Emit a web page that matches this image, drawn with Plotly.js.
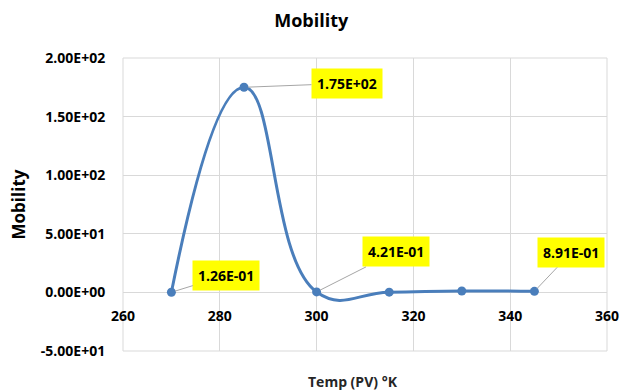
<!DOCTYPE html>
<html><head><meta charset="utf-8">
<script src="https://cdn.plot.ly/plotly-3.0.1.min.js"></script>
<style>html,body{margin:0;padding:0;background:#fff}#c{width:620px;height:391px}</style>
</head><body><div id="c"></div>
<script>
var temps = [270, 285, 300, 315, 330, 345];
var mobility = [0.126, 175, 0.421, 0.2, 1.2, 0.891];
var labelIdx = [0, 1, 2, 5];
var labelText = ["1.26E-01", "1.75E+02", "4.21E-01", "8.91E-01"];
var yTickVals = [-50, 0, 50, 100, 150, 200];
var yTickText = ["-5.00E+01", "0.00E+00", "5.00E+01", "1.00E+02", "1.50E+02", "2.00E+02"];
var xTickVals = [260, 280, 300, 320, 340, 360];

var labelOffsets = [[55, -17], [103, -4], [79, -40], [37, -39]];

var FONT = "Open Sans, Liberation Sans, sans-serif";
var ann = labelIdx.map(function (i, k) {
  return {
    x: temps[i], y: mobility[i], xref: 'x', yref: 'y',
    text: labelText[k],
    showarrow: true, arrowhead: 0, arrowwidth: 1, arrowcolor: '#a6a6a6',
    ax: labelOffsets[k][0], ay: labelOffsets[k][1], standoff: 4,
    bgcolor: '#ffff00', borderpad: 5,
    font: {family: FONT, size: 14, weight: 'bold', color: '#000'}
  };
});
ann.push({
  xref: 'paper', yref: 'paper', x: 0.475, y: -0.105, yanchor: 'middle',
  text: 'Temp (PV) °K', showarrow: false,
  font: {family: FONT, size: 14, weight: 'bold', color: '#262626'}
});

var trace = {
  x: temps, y: mobility, type: 'scatter', mode: 'lines+markers',
  line: {color: '#4a7ebb', width: 3, shape: 'spline', smoothing: 1.3},
  marker: {color: '#4a7ebb', size: 9},
  hoverinfo: 'none'
};

var layout = {
  width: 620, height: 391,
  margin: {l: 123, r: 13, t: 58, b: 40},
  paper_bgcolor: '#fff', plot_bgcolor: '#fff',
  showlegend: false,
  title: {text: 'Mobility', x: 0.502, xanchor: 'center', y: 0.948, yanchor: 'middle',
          font: {family: FONT, size: 18, weight: 'bold', color: '#000'}},
  xaxis: {
    range: [260, 360], tickvals: xTickVals, ticktext: xTickVals.map(String),
    anchor: 'free', position: 0.2,
    showgrid: true, gridcolor: '#d9d9d9', gridwidth: 1, zeroline: false,
    showline: false, ticks: 'outside', ticklen: 11, tickcolor: 'rgba(0,0,0,0)',
    tickfont: {family: FONT, size: 14, weight: 'bold', color: '#000'}
  },
  yaxis: {
    range: [-50, 200], tickvals: yTickVals, ticktext: yTickText,
    showgrid: true, gridcolor: '#d9d9d9', gridwidth: 1, zeroline: false,
    showline: false, ticks: 'outside', ticklen: 14, tickcolor: 'rgba(0,0,0,0)',
    tickfont: {family: FONT, size: 14, weight: 'bold', color: '#000'},
    title: {text: 'Mobility', standoff: 10, font: {family: FONT, size: 17, weight: 'bold', color: '#000'}}
  },
  shapes: [{type: 'rect', xref: 'x domain', yref: 'y domain', x0: 0, x1: 1, y0: 0, y1: 1,
            line: {color: '#d9d9d9', width: 1}, layer: 'below'}],
  annotations: ann
};
Plotly.newPlot('c', [trace], layout, {displayModeBar: false, staticPlot: true});
</script></body></html>
